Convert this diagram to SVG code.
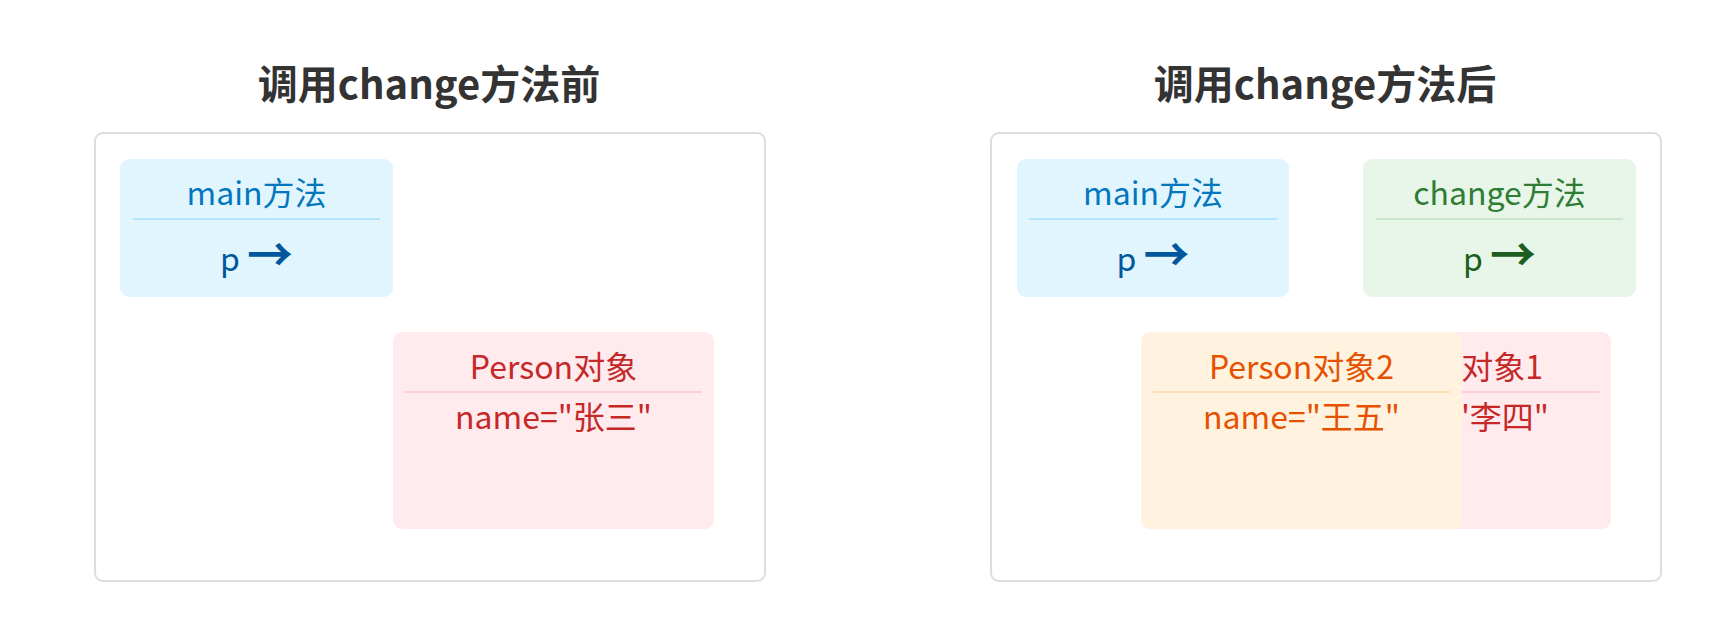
<svg xmlns="http://www.w3.org/2000/svg" width="1717" height="635" viewBox="0 0 1717 635">
  <style>
    text { font-family: "Noto Sans CJK SC", "Noto Sans", sans-serif; text-anchor: middle; }
    .title { font-size: 40px; font-weight: bold; fill: #333333; }
    .frame { fill: #ffffff; stroke: #dddddd; stroke-width: 2; }
    .lbl { font-size: 32px; }
    .arr { font-size: 46px; font-weight: bold; }
    .div { stroke-width: 2; }
    .blue rect { fill: #e1f5fe; }
    .blue line { stroke: #b3e5fc; }
    .blue .t { fill: #0277bd; }
    .blue .v { fill: #01579b; }
    .green rect { fill: #e8f5e9; }
    .green line { stroke: #c8e6c9; }
    .green .t { fill: #2e7d32; }
    .green .v { fill: #1b5e20; }
    .pink rect { fill: #ffebee; }
    .pink line { stroke: #ffcdd2; }
    .pink text { fill: #c62828; }
    .orange rect { fill: #fff3e0; }
    .orange line { stroke: #ffe0b2; }
    .orange text { fill: #e65100; }
  </style>
  <rect width="1717" height="635" fill="#ffffff"/>

  <g id="before">
    <text class="title" x="429" y="99">调用change方法前</text>
    <rect class="frame" x="95" y="133" width="670" height="448" rx="8"/>
    <g id="main-before" class="blue">
      <rect x="120" y="159" width="273" height="138" rx="9"/>
      <line class="div" x1="133" y1="219" x2="380" y2="219"/>
      <text class="lbl t" x="256.5" y="205">main方法</text>
      <text class="lbl v" x="256.5" y="271">p <tspan class="arr">→</tspan></text>
    </g>
    <g id="person-before" class="pink">
      <rect x="393" y="332" width="321" height="197" rx="9"/>
      <line class="div" x1="405" y1="392" x2="702" y2="392"/>
      <text class="lbl" x="553.5" y="379">Person对象</text>
      <text class="lbl" x="553.5" y="429">name="张三"</text>
    </g>
  </g>

  <g id="after">
    <text class="title" x="1325" y="99">调用change方法后</text>
    <rect class="frame" x="991" y="133" width="670" height="448" rx="8"/>
    <g id="main-after" class="blue">
      <rect x="1017" y="159" width="272" height="138" rx="9"/>
      <line class="div" x1="1029" y1="219" x2="1277" y2="219"/>
      <text class="lbl t" x="1153" y="205">main方法</text>
      <text class="lbl v" x="1153" y="271">p <tspan class="arr">→</tspan></text>
    </g>
    <g id="change-after" class="green">
      <rect x="1363" y="159" width="273" height="138" rx="9"/>
      <line class="div" x1="1376" y1="219" x2="1623" y2="219"/>
      <text class="lbl t" x="1499.5" y="205">change方法</text>
      <text class="lbl v" x="1499.5" y="271">p <tspan class="arr">→</tspan></text>
    </g>
    <g id="person1-after" class="pink">
      <rect x="1290" y="332" width="321" height="197" rx="9"/>
      <line class="div" x1="1302" y1="392" x2="1599" y2="392"/>
      <text class="lbl" x="1450.5" y="379">Person对象1</text>
      <text class="lbl" x="1450.5" y="429">name="李四"</text>
    </g>
    <g id="person2-after" class="orange">
      <rect x="1141" y="332" width="321" height="197" rx="9"/>
      <line class="div" x1="1153" y1="392" x2="1450" y2="392"/>
      <text class="lbl" x="1301.5" y="379">Person对象2</text>
      <text class="lbl" x="1301.5" y="429">name="王五"</text>
    </g>
  </g>
  <g id="connectors"></g>
</svg>
